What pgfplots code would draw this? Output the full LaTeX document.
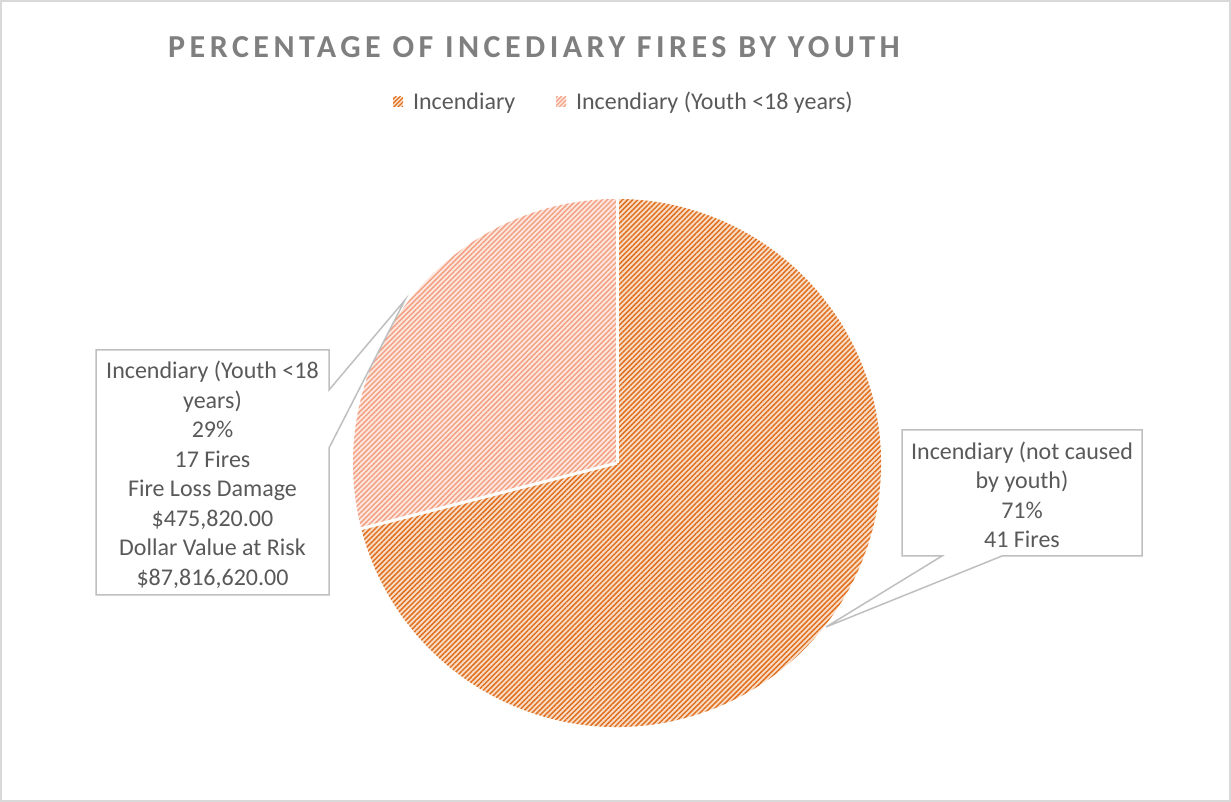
\documentclass[border=0pt]{standalone}
\usepackage{pgfplots}
\pgfplotsset{compat=1.18}
\usepackage{pgfplotstable}
\usepackage{fontspec}
\setmainfont{Carlito}
\newfontfamily\titlefont[LetterSpace=14]{Carlito}
\usetikzlibrary{patterns.meta}

\definecolor{txt}{HTML}{595959}
\definecolor{ttl}{HTML}{7F7F7F}
\definecolor{bord}{HTML}{BFBFBF}
\definecolor{frame}{HTML}{D9D9D9}
\definecolor{darkfg}{HTML}{E0701F}
\definecolor{darkbg}{HTML}{F8DEC9}
\definecolor{lightfg}{HTML}{F2A185}
\definecolor{lightbg}{HTML}{FDE7DE}

\pgfplotstableread{
label share
youth 29
other 71
}\piedata

\begin{document}
\begin{tikzpicture}
\pgfplotstablegetelem{0}{share}\of\piedata \let\vY\pgfplotsretval
\pgfplotstablegetelem{1}{share}\of\piedata \let\vO\pgfplotsretval
\pgfmathsetmacro\angY{360*\vY/(\vY+\vO)}
\pgfmathsetmacro\endY{90+\angY}
\begin{axis}[scale only axis, width=615.5pt, height=401pt,
  xmin=0, xmax=1231, ymin=0, ymax=802, hide axis, clip=false]
% frame
\draw[frame, line width=1pt] (axis cs:1,1) rectangle (axis cs:1230,801);
% pie slices
\fill[fill=lightbg, postaction={pattern={Lines[angle=45,distance=1.8pt,line width=0.75pt]}, pattern color=lightfg}]
  (axis cs:617,339) -- ++(90:132pt) arc[start angle=90, end angle=\endY, radius=132pt] -- cycle;
\fill[fill=darkbg, postaction={pattern={Lines[angle=45,distance=1.8pt,line width=0.75pt]}, pattern color=darkfg}]
  (axis cs:617,339) -- ++(\endY:132pt) arc[start angle=\endY, end angle=450, radius=132pt] -- cycle;
\draw[white, line width=1.5pt] (axis cs:617,339) -- ++(90:132.5pt);
\draw[white, line width=1.5pt] (axis cs:617,339) -- ++(\endY:132.5pt);
% title
\node[ttl, font=\titlefont\fontsize{16}{19}\selectfont\bfseries] at (axis cs:534,755) {PERCENTAGE OF INCEDIARY FIRES BY YOUTH};
% legend
\fill[fill=darkbg, postaction={pattern={Lines[angle=45,distance=1.5pt,line width=0.6pt]}, pattern color=darkfg}]
  (axis cs:393,695) rectangle (axis cs:403,705);
\node[txt, anchor=west, font=\fontsize{12}{14}\selectfont] at (axis cs:406,699) {Incendiary};
\fill[fill=lightbg, postaction={pattern={Lines[angle=45,distance=1.5pt,line width=0.6pt]}, pattern color=lightfg}]
  (axis cs:556,695) rectangle (axis cs:566,705);
\node[txt, anchor=west, font=\fontsize{12}{14}\selectfont] at (axis cs:569,699) {Incendiary (Youth <18 years)};
% left callout
\draw[bord, fill=white, line width=0.75pt] (axis cs:96,452) -- (axis cs:329,452) -- (axis cs:329,412) -- (axis cs:405,502)
  -- (axis cs:329,354) -- (axis cs:329,207) -- (axis cs:96,207) -- cycle;
\node[txt, align=center, font=\fontsize{12}{14.75}\selectfont] at (axis cs:212.5,327) {Incendiary (Youth <18\\years)\\29\%\\17 Fires\\Fire Loss Damage\\\$475,820.00\\Dollar Value at Risk\\\$87,816,620.00};
% right callout
\draw[bord, fill=white, line width=0.75pt] (axis cs:902,372) -- (axis cs:1142,372) -- (axis cs:1142,246) -- (axis cs:1002,246)
  -- (axis cs:826,175) -- (axis cs:942,246) -- (axis cs:902,246) -- cycle;
\node[txt, align=center, font=\fontsize{12}{14.75}\selectfont] at (axis cs:1022,307) {Incendiary (not caused\\by youth)\\71\%\\41 Fires};
\end{axis}
\end{tikzpicture}
\end{document}
